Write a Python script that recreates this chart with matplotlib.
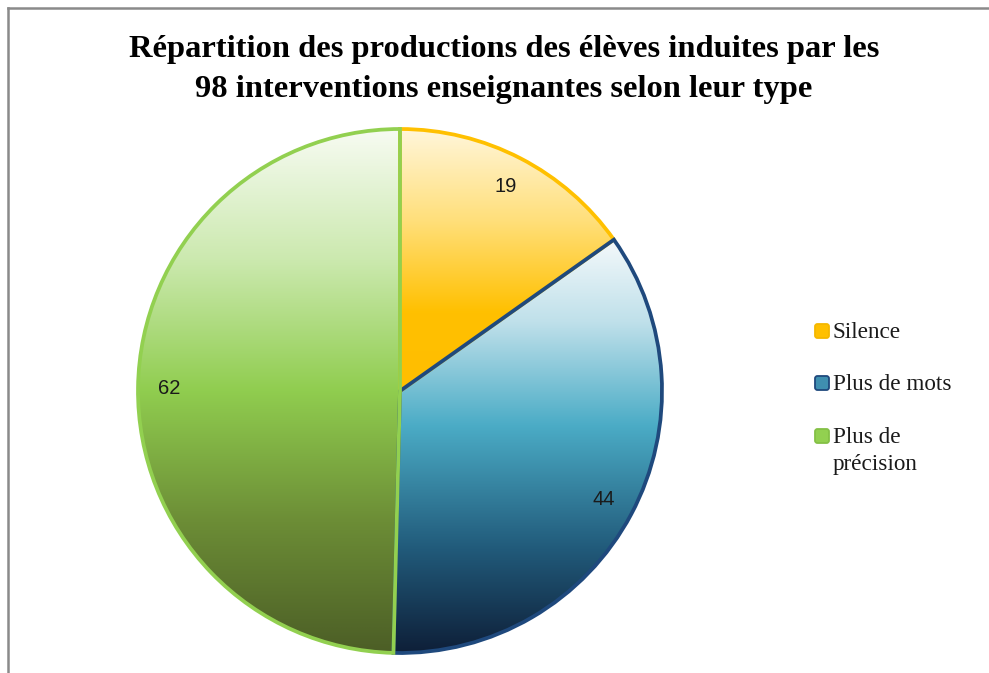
"""
Pie chart: répartition des productions des élèves (Excel-style gradient pie).
"""
import matplotlib
matplotlib.use("Agg")
import matplotlib.pyplot as plt
import numpy as np
from matplotlib.colors import LinearSegmentedColormap
from matplotlib.patches import FancyBboxPatch
from matplotlib.lines import Line2D

W, H = 989, 673  # output size in pixels (dpi 100)

TITLE_LINES = ["Répartition des productions des élèves induites par les",
               "98 interventions enseignantes selon leur type"]
LABELS = ["Silence", "Plus de mots", "Plus de\nprécision"]
VALUES = [19, 44, 62]

# Colours (top -> bottom gradient stops per wedge, plus outline)
EDGE_COLORS = ["#FFC000", "#1F497D", "#92D050"]
GRADIENTS = [
    [(0.0, "#FFF6DA"), (0.35, "#FFDF7A"), (0.7, "#FFC000"), (1.0, "#FFBE00")],
    [(0.0, "#F4F9FB"), (0.2, "#BFE0EA"), (0.45, "#4BACC6"), (0.75, "#215A7A"), (1.0, "#0E1F38")],
    [(0.0, "#F7FBF2"), (0.25, "#CBE9AE"), (0.5, "#90CD4F"), (0.75, "#6C8D36"), (1.0, "#4C5E26")],
]
MARKER_FACE = ["#FFC000", "#3F8FB0", "#92D050"]
MARKER_EDGE = ["#F5B800", "#1F497D", "#84C046"]

SERIF = ["Liberation Serif", "DejaVu Serif"]
SANS = ["Liberation Sans", "DejaVu Sans"]

# pie geometry in pixels (y measured from top)
CX, CY, R = 400, 391, 262

fig = plt.figure(figsize=(W / 100, H / 100), dpi=100, facecolor="white")
ax = fig.add_axes([0, 0, 1, 1])
ax.set_xlim(0, W)
ax.set_ylim(0, H)
ax.axis("off")

total = sum(VALUES)
wedges, texts, autotexts = ax.pie(
    VALUES, startangle=90, counterclock=False, center=(CX, H - CY), radius=R,
    frame=True, autopct=lambda p: f"{round(p * total / 100)}", pctdistance=0.88,
    wedgeprops=dict(linewidth=2.7, joinstyle="miter"),
    textprops=dict(fontsize=14.5, color="#1a1a1a", family=SANS))

for w, stops, ec in zip(wedges, GRADIENTS, EDGE_COLORS):
    w.set_facecolor("none")
    w.set_edgecolor(ec)
    ext = w.get_path().get_extents()
    cmap = LinearSegmentedColormap.from_list("g", stops)
    grad = cmap(np.linspace(0, 1, 256))[:, None, :]
    im = ax.imshow(grad, extent=[ext.x0, ext.x1, ext.y0, ext.y1], origin="upper",
                   aspect="auto", interpolation="bilinear", zorder=0.5)
    im.set_clip_path(w)

ax.set_xlim(0, W)
ax.set_ylim(0, H)
ax.set_aspect("auto")

# title
for i, line in enumerate(TITLE_LINES):
    ax.text(504, H - (49 + 40 * i), line, ha="center", va="center",
            fontsize=23.4, fontweight="bold", family=SERIF, color="black")

# legend (manual, Excel layout)
leg_y = [331, 383, 436]
for lab, y, fc, ec in zip(LABELS, leg_y, MARKER_FACE, MARKER_EDGE):
    ax.add_patch(FancyBboxPatch((815, H - y - 7), 14, 14,
                                boxstyle="round,pad=0,rounding_size=2.5",
                                facecolor=fc, edgecolor=ec, linewidth=1.3))
    ax.text(833, H - y - 2, lab, ha="left", va="top" if "\n" in lab else "center",
            fontsize=16.7, family=SERIF, color="#1a1a1a", linespacing=1.38)
# the two-line entry: shift so the first line centres on the marker
ax.texts[-1].set_y(H - leg_y[-1] + 9)

# chart border (only top and left edges visible in the crop)
fig.add_artist(Line2D([7.5 / W, 1], [1 - 7.5 / H, 1 - 7.5 / H], transform=fig.transFigure,
                      color="#8a8a8a", linewidth=1.8))
fig.add_artist(Line2D([7.5 / W, 7.5 / W], [0, 1 - 7.5 / H], transform=fig.transFigure,
                      color="#8a8a8a", linewidth=1.8))

fig.savefig("out.png", dpi=100, facecolor="white")
